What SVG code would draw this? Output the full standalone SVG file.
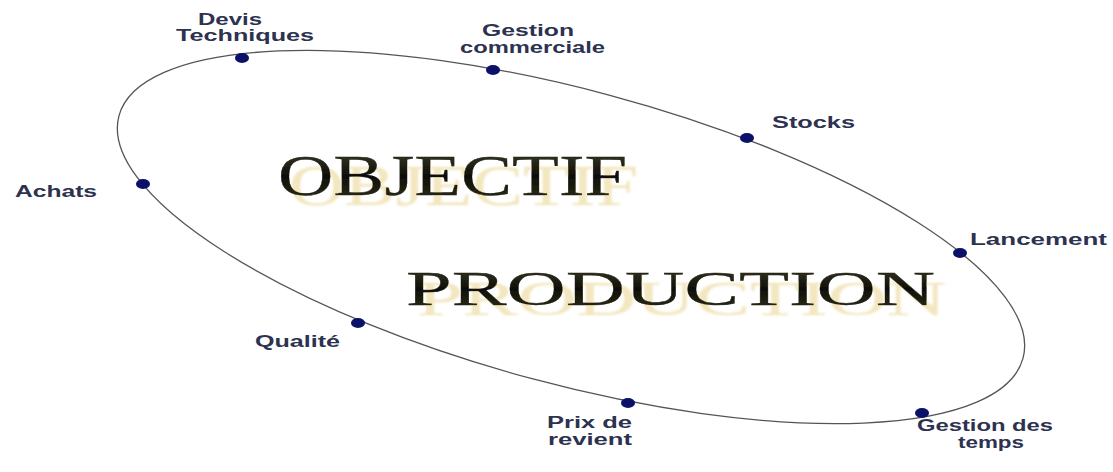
<svg xmlns="http://www.w3.org/2000/svg" width="1113" height="472" viewBox="0 0 1113 472">
<style>
.lbl{font-family:"Liberation Sans",Arial,sans-serif;font-weight:bold;font-size:16px;fill:#2d3250}
.dot{fill:#0b1169}
.big{font-family:"Liberation Serif","Times New Roman",serif;fill:url(#ink);stroke:#1b1b12;stroke-width:0.3;filter:url(#reflect)}
</style>
<defs>
<linearGradient id="ink" x1="0" y1="0" x2="0" y2="1">
<stop offset="0" stop-color="#45452c"/>
<stop offset="0.5" stop-color="#0e0e08"/>
<stop offset="1" stop-color="#34341c"/>
</linearGradient>
<filter id="reflect" x="-5%" y="-20%" width="115%" height="160%">
<feOffset in="SourceAlpha" dx="11" dy="10" result="off"/>
<feGaussianBlur in="off" stdDeviation="0.9" result="blur"/>
<feFlood flood-color="#e6cf80" flood-opacity="0.5"/>
<feComposite in2="blur" operator="in" result="shadow"/>
<feMerge>
<feMergeNode in="shadow"/>
<feMergeNode in="SourceGraphic"/>
</feMerge>
</filter>
</defs>
<rect width="1113" height="472" fill="#ffffff"/>
<g id="connectors">
<ellipse cx="571" cy="237" rx="468" ry="147" transform="rotate(15 571 237)" fill="none" stroke="#555555" stroke-width="1.3"/>
</g>
<g id="title">
<text class="big" x="278" y="195" font-size="56" textLength="349" lengthAdjust="spacingAndGlyphs">OBJECTIF</text>
<text class="big" x="406" y="305" font-size="48" textLength="529" lengthAdjust="spacingAndGlyphs">PRODUCTION</text>
</g>
<g id="devis">
<ellipse class="dot" cx="242" cy="58" rx="7" ry="5"/>
<text class="lbl" x="198" y="25" textLength="64" lengthAdjust="spacingAndGlyphs">Devis</text>
<text class="lbl" x="176" y="41" textLength="138" lengthAdjust="spacingAndGlyphs">Techniques</text>
</g>
<g id="gestion-commerciale">
<ellipse class="dot" cx="493" cy="70" rx="7" ry="5"/>
<text class="lbl" x="482" y="36" textLength="92" lengthAdjust="spacingAndGlyphs">Gestion</text>
<text class="lbl" x="460" y="53" textLength="145" lengthAdjust="spacingAndGlyphs">commerciale</text>
</g>
<g id="stocks">
<ellipse class="dot" cx="747" cy="138" rx="7" ry="5"/>
<text class="lbl" x="772" y="128" textLength="83" lengthAdjust="spacingAndGlyphs">Stocks</text>
</g>
<g id="lancement">
<ellipse class="dot" cx="960" cy="253" rx="7" ry="5"/>
<text class="lbl" x="970" y="245" textLength="137" lengthAdjust="spacingAndGlyphs">Lancement</text>
</g>
<g id="gestion-temps">
<ellipse class="dot" cx="922" cy="413" rx="7" ry="5"/>
<text class="lbl" x="917" y="431" textLength="136" lengthAdjust="spacingAndGlyphs">Gestion des</text>
<text class="lbl" x="958" y="448" textLength="66" lengthAdjust="spacingAndGlyphs">temps</text>
</g>
<g id="prix">
<ellipse class="dot" cx="628" cy="403" rx="7" ry="5"/>
<text class="lbl" x="547" y="428" textLength="85" lengthAdjust="spacingAndGlyphs">Prix de</text>
<text class="lbl" x="548" y="445" textLength="84" lengthAdjust="spacingAndGlyphs">revient</text>
</g>
<g id="qualite">
<ellipse class="dot" cx="358" cy="323" rx="7" ry="5"/>
<text class="lbl" x="255" y="347" textLength="85" lengthAdjust="spacingAndGlyphs">Qualité</text>
</g>
<g id="achats">
<ellipse class="dot" cx="143" cy="184" rx="7" ry="5"/>
<text class="lbl" x="15" y="197" textLength="82" lengthAdjust="spacingAndGlyphs">Achats</text>
</g>
</svg>
